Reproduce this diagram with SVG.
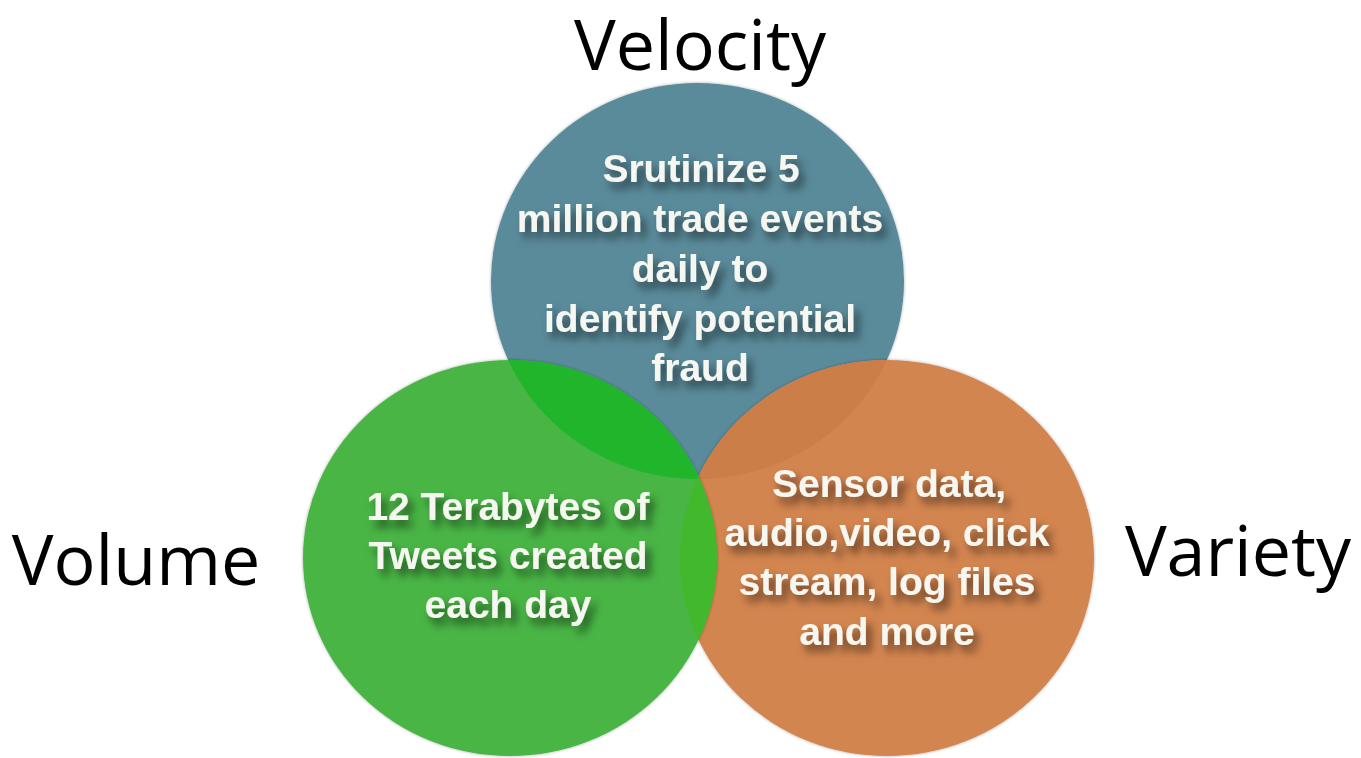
<svg xmlns="http://www.w3.org/2000/svg" width="1361" height="758" viewBox="0 0 1361 758">
  <style>
    .lbl { font-family: "Open Sans", "DejaVu Sans", sans-serif; font-size: 70px; fill: #000; }
    .body { font-family: "Liberation Sans", Arial, sans-serif; font-weight: bold; font-size: 39px; fill: #f7f7f2; text-anchor: middle; filter: url(#tshadow); }
  </style>
  <defs>
    <filter id="tshadow" x="-20%" y="-40%" width="140%" height="200%">
      <feDropShadow dx="5" dy="7" stdDeviation="4.5" flood-color="#000" flood-opacity="0.55"/>
    </filter>
    <filter id="cshadow" x="-10%" y="-10%" width="120%" height="120%">
      <feDropShadow dx="0" dy="0" stdDeviation="1.5" flood-color="#000" flood-opacity="0.35"/>
    </filter>
    <clipPath id="clipBlue"><ellipse cx="697.5" cy="281" rx="206.5" ry="198"/></clipPath>
    <clipPath id="clipOrange"><ellipse cx="887" cy="558" rx="207" ry="198"/></clipPath>
  </defs>
  <rect width="1361" height="758" fill="#ffffff"/>

  <g id="velocity">
    <ellipse cx="697.5" cy="281" rx="206.5" ry="198" fill="#5a8b9b" filter="url(#cshadow)"/>
  </g>
  <g id="variety">
    <ellipse cx="887" cy="558" rx="207" ry="198" fill="#d38550" filter="url(#cshadow)"/>
    <ellipse cx="887" cy="558" rx="207" ry="198" fill="#cc7e49" clip-path="url(#clipBlue)"/>
  </g>
  <g id="volume">
    <ellipse cx="510" cy="558" rx="207" ry="198" fill="#4ab545" filter="url(#cshadow)"/>
    <ellipse cx="510" cy="558" rx="207" ry="198" fill="#21b52c" clip-path="url(#clipBlue)"/>
    <ellipse cx="510" cy="558" rx="207" ry="198" fill="#42b82c" clip-path="url(#clipOrange)"/>
  </g>

  <g id="velocity-text">
    <text class="lbl" x="700" y="70" text-anchor="middle">Velocity</text>
    <text class="body" x="701" y="182">Srutinize 5</text>
    <text class="body" x="700" y="232">million trade events</text>
    <text class="body" x="700" y="282">daily to</text>
    <text class="body" x="700" y="332">identify potential</text>
    <text class="body" x="700" y="381">fraud</text>
  </g>
  <g id="volume-text">
    <text class="lbl" x="136" y="585" text-anchor="middle">Volume</text>
    <text class="body" x="508" y="520">12 Terabytes of</text>
    <text class="body" x="508" y="569">Tweets created</text>
    <text class="body" x="508" y="618">each day</text>
  </g>
  <g id="variety-text">
    <text class="lbl" x="1238" y="576" text-anchor="middle">Variety</text>
    <text class="body" x="889" y="497">Sensor data,</text>
    <text class="body" x="887" y="546">audio,video, click</text>
    <text class="body" x="887" y="595">stream, log files</text>
    <text class="body" x="887" y="645">and more</text>
  </g>
</svg>
